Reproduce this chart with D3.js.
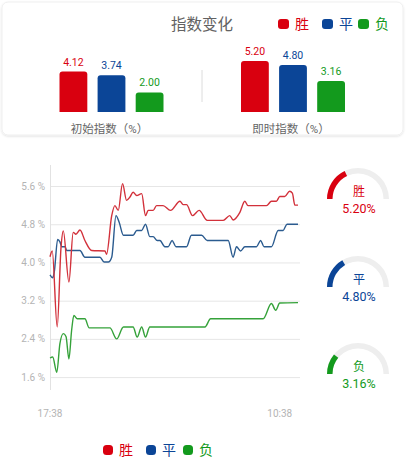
<!DOCTYPE html>
<meta charset="utf-8">
<head>
<style>
body { margin: 0; background: #fff; }
svg { display: block; font-family: Roboto, "Noto Sans CJK SC", sans-serif; }
.grid line { stroke: #e6e6e6; }
.tick-label { fill: #b4b4b4; font-size: 10px; }
</style>
</head>
<body>
<svg width="406" height="466"></svg>
<script src="https://d3js.org/d3.v7.min.js"></script>
<script>

// names and colours of the three outcomes
var names = ["胜", "平", "负"];
var colors = ["#d9000f", "#0b4597", "#139a1d"];
var lineColors = ["#d2313b", "#2b5b8f", "#35a23a"];

// bar panel values
var initVals = [4.12, 3.74, 2.00];
var nowVals = [5.20, 4.80, 3.16];
var groupLabels = ["初始指数（%）", "即时指数（%）"];

// line chart: minutes after 17:38 and value (%)
var winT = [0, 10, 32, 49, 59, 84, 103, 115, 133, 155, 185, 244, 251, 274, 288, 303, 322, 340, 355, 369, 385, 407, 424, 436, 458, 473, 502, 535, 577, 591, 606, 633, 662, 698, 769, 798, 813, 843, 865, 879, 961, 983, 1005, 1020, 1042, 1064, 1076, 1087, 1101];
var winV = [4.12, 4.24, 2.65, 4.32, 4.66, 3.59, 4.63, 4.59, 4.68, 4.46, 4.25, 4.24, 4.17, 4.98, 5.19, 5.09, 5.65, 5.30, 5.37, 5.47, 5.40, 5.44, 4.98, 5.09, 5.09, 5.19, 5.19, 5.09, 5.28, 5.21, 5.21, 4.98, 5.09, 4.88, 4.88, 4.98, 4.89, 5.05, 5.28, 5.19, 5.19, 5.28, 5.28, 5.38, 5.38, 5.49, 5.45, 5.20, 5.20];
var drawT = [0, 12, 19, 34, 44, 52, 67, 74, 133, 155, 222, 240, 259, 274, 293, 307, 326, 369, 385, 407, 424, 443, 458, 476, 488, 510, 525, 542, 559, 606, 628, 673, 698, 791, 813, 828, 846, 865, 917, 935, 950, 983, 1013, 1035, 1052, 1101];
var drawV = [3.74, 3.68, 3.80, 4.48, 4.43, 4.33, 4.33, 4.25, 4.25, 4.11, 4.11, 4.01, 4.01, 4.11, 4.98, 4.84, 4.57, 4.57, 4.67, 4.67, 4.80, 4.54, 4.54, 4.46, 4.46, 4.33, 4.33, 4.46, 4.33, 4.33, 4.57, 4.57, 4.46, 4.46, 4.11, 4.33, 4.24, 4.33, 4.33, 4.46, 4.33, 4.33, 4.67, 4.67, 4.80, 4.80];
var loseT = [0, 12, 30, 44, 59, 71, 84, 96, 106, 121, 155, 174, 266, 296, 326, 369, 387, 407, 424, 443, 688, 713, 946, 983, 1002, 1020, 1101];
var loseV = [2.00, 2.02, 1.70, 2.30, 2.51, 2.45, 1.98, 2.58, 2.89, 2.82, 2.82, 2.63, 2.63, 2.40, 2.65, 2.65, 2.44, 2.65, 2.44, 2.65, 2.65, 2.82, 2.82, 3.14, 3.00, 3.15, 3.16];

var yTicks = [1.6, 2.4, 3.2, 4.0, 4.8, 5.6];
var xTicks = [0, 1020];
var xTickLabels = ["17:38", "10:38"];
var gaugeMax = 14.5;

var svg = d3.select("svg");

// ---------- top card ----------
var defs = svg.append("defs");
var f = defs.append("filter").attr("id", "shadow").attr("x", "-5%").attr("y", "-10%").attr("width", "110%").attr("height", "130%");
f.append("feDropShadow").attr("dx", 0).attr("dy", 1).attr("stdDeviation", 1.2).attr("flood-color", "#000").attr("flood-opacity", 0.12);

svg.append("rect")
    .attr("x", 2).attr("y", 2).attr("width", 401).attr("height", 133)
    .attr("rx", 6).attr("fill", "#fff").attr("stroke", "#efefef")
    .attr("filter", "url(#shadow)");

svg.append("text")
    .attr("x", 202).attr("y", 30)
    .attr("text-anchor", "middle")
    .attr("fill", "#626262").style("font-size", "15.5px")
    .text("指数变化");

var topLegend = svg.append("g").selectAll("g")
    .data(names)
    .enter().append("g")
      .attr("transform", function(d, i) { return "translate(" + [278, 322, 358][i] + ",19)"; });
topLegend.append("rect")
    .attr("width", 11).attr("height", 10).attr("rx", 3)
    .attr("fill", function(d, i) { return colors[i]; });
topLegend.append("text")
    .attr("x", 17).attr("y", 10)
    .attr("fill", function(d, i) { return colors[i]; })
    .style("font-size", "14px")
    .text(function(d) { return d; });

var barY = d3.scaleLinear().domain([0, 5.2]).range([112, 61]);
var groupX = d3.scalePoint().domain([0, 1]).range([111.5, 293]);
var barX = d3.scaleBand().domain([0, 1, 2]).range([0, 104]).paddingInner(0.27);

function roundTop(x, y, w, h, r) {
  return "M" + x + "," + (y + h) + "V" + (y + r) + "Q" + x + "," + y + " " + (x + r) + "," + y +
    "H" + (x + w - r) + "Q" + (x + w) + "," + y + " " + (x + w) + "," + (y + r) + "V" + (y + h) + "Z";
}

[initVals, nowVals].forEach(function(vals, gi) {
  var gx = groupX(gi) - 52;
  var g = svg.append("g").attr("transform", "translate(" + gx + ",0)");
  g.selectAll("path")
    .data(vals)
    .enter().append("path")
      .attr("fill", function(d, i) { return colors[i]; })
      .attr("d", function(d, i) { return roundTop(barX(i), barY(d), barX.bandwidth(), barY(0) - barY(d), 3); });
  g.selectAll(".val")
    .data(vals)
    .enter().append("text")
      .attr("x", function(d, i) { return barX(i) + barX.bandwidth() / 2; })
      .attr("y", function(d) { return barY(d) - 6; })
      .attr("text-anchor", "middle")
      .attr("fill", function(d, i) { return colors[i]; })
      .style("font-size", "10.5px")
      .text(function(d) { return d.toFixed(2); });
  g.append("text")
    .attr("x", 50).attr("y", 133)
    .attr("text-anchor", "middle")
    .attr("fill", "#666").style("font-size", "11.5px")
    .text(groupLabels[gi]);
});

svg.append("line")
    .attr("x1", 202).attr("x2", 202).attr("y1", 70).attr("y2", 102)
    .attr("stroke", "#dcdcdc");

// ---------- line chart ----------
var x = d3.scaleLinear().domain([0, 1101]).range([50, 298]);
var y = d3.scaleLinear().domain([1.33, 6.04]).range([390, 165]);

svg.append("g").attr("class", "grid")
  .selectAll("line")
  .data(yTicks)
  .enter().append("line")
    .attr("x1", 50).attr("x2", 300)
    .attr("y1", function(d) { return y(d) + 0.5; })
    .attr("y2", function(d) { return y(d) + 0.5; });

svg.append("line")
    .attr("x1", 50.5).attr("x2", 50.5).attr("y1", y.range()[1]).attr("y2", y.range()[0])
    .attr("stroke", "#e2e2e2");

svg.append("g").selectAll("text")
  .data(yTicks)
  .enter().append("text")
    .attr("class", "tick-label")
    .attr("x", 45).attr("y", function(d) { return y(d) + 3.5; })
    .attr("text-anchor", "end")
    .text(function(d) { return d.toFixed(1) + " %"; });

svg.append("g").selectAll("text")
  .data(xTicks)
  .enter().append("text")
    .attr("class", "tick-label")
    .attr("x", function(d) { return x(d); }).attr("y", 417)
    .attr("text-anchor", "middle")
    .text(function(d, i) { return xTickLabels[i]; });

var line = d3.line()
    .x(function(d) { return x(d[0]); })
    .y(function(d) { return y(d[1]); })
    .curve(d3.curveMonotoneX);

[[loseT, loseV], [drawT, drawV], [winT, winV]].forEach(function(s, k) {
  var idx = 2 - k;
  svg.append("path")
      .datum(d3.zip(s[0], s[1]))
      .attr("fill", "none")
      .attr("stroke", lineColors[idx])
      .attr("stroke-width", 1.4)
      .attr("d", line);
});

// ---------- gauges ----------
var arc = d3.arc().innerRadius(25.5).outerRadius(31);
var gaugeA = d3.scaleLinear().domain([0, gaugeMax]).range([-Math.PI / 2, Math.PI / 2]);
var gaugeCy = [199, 287, 374];

nowVals.forEach(function(v, i) {
  var g = svg.append("g").attr("transform", "translate(358," + gaugeCy[i] + ")");
  g.append("path")
      .attr("fill", "#eeeeee")
      .attr("d", arc({ startAngle: -Math.PI / 2, endAngle: Math.PI / 2 }));
  g.append("path")
      .attr("fill", colors[i])
      .attr("d", arc({ startAngle: -Math.PI / 2, endAngle: gaugeA(v) }));
  g.append("text")
      .attr("x", 1).attr("y", -3)
      .attr("text-anchor", "middle")
      .attr("fill", colors[i]).style("font-size", "12px")
      .text(names[i]);
  g.append("text")
      .attr("x", 1).attr("y", 14)
      .attr("text-anchor", "middle")
      .attr("fill", colors[i]).style("font-size", "12.5px")
      .text(v.toFixed(2) + "%");
});

// ---------- bottom legend ----------
var botLegend = svg.append("g").selectAll("g")
    .data(names)
    .enter().append("g")
      .attr("transform", function(d, i) { return "translate(" + [103, 146, 183][i] + ",445)"; });
botLegend.append("rect")
    .attr("width", 10).attr("height", 10).attr("rx", 3.5)
    .attr("fill", function(d, i) { return colors[i]; });
botLegend.append("text")
    .attr("x", 16).attr("y", 10)
    .attr("fill", function(d, i) { return colors[i]; })
    .style("font-size", "14px")
    .text(function(d) { return d; });

</script>
</body>
</html>
